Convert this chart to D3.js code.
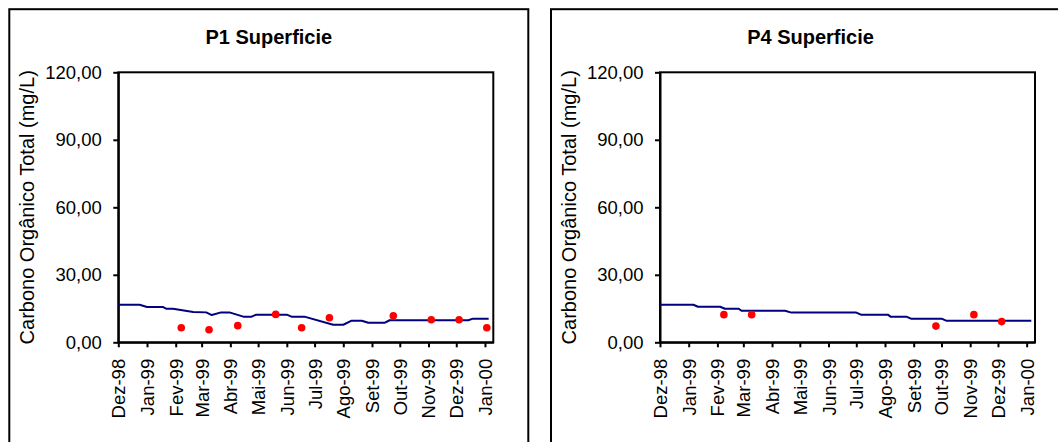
<!DOCTYPE html>
<html>
<head>
<meta charset="utf-8">
<script src="https://cdn.jsdelivr.net/npm/d3@7"></script>
<style>
  html, body { margin: 0; padding: 0; background: #fff; }
  svg { display: block; }
  svg text { font-family: "Liberation Sans", Arial, sans-serif; }
</style>
</head>
<body>
<svg id="chart" width="1058" height="442"></svg>
<script>
// Monthly ticks along the date axis and their labels
const tickDates = ["1998-12-01","1999-01-01","1999-02-01","1999-03-01","1999-04-01","1999-05-01",
  "1999-06-01","1999-07-01","1999-08-01","1999-09-01","1999-10-01","1999-11-01","1999-12-01","2000-01-01"];
const tickLabels = ["Dez-98","Jan-99","Fev-99","Mar-99","Abr-99","Mai-99","Jun-99",
  "Jul-99","Ago-99","Set-99","Out-99","Nov-99","Dez-99","Jan-00"];
const yTicks = [0, 30, 60, 90, 120];

// P1 Superficie — continuous series (line)
const p1LineDates = ["1998-12-01","1998-12-24","1999-01-01","1999-01-18","1999-01-22","1999-01-29",
  "1999-02-20","1999-03-06","1999-03-12","1999-03-22","1999-03-31","1999-04-15","1999-04-24",
  "1999-04-29","1999-06-01","1999-06-06","1999-06-20","1999-07-21","1999-08-01","1999-08-10",
  "1999-08-21","1999-08-28","1999-09-15","1999-09-20","1999-12-14","1999-12-19","2000-01-05"];
const p1LineValues = [16.7,16.7,15.7,15.7,14.9,14.9,13.5,13.3,12.1,13.3,13.3,11.4,11.4,
  12.3,12.3,11.4,11.4,7.8,7.8,9.6,9.6,8.7,8.7,9.8,9.8,10.5,10.5];
// P1 Superficie — samples (points)
const p1PointDates = ["1999-02-07","1999-03-09","1999-04-09","1999-05-20","1999-06-17",
  "1999-07-17","1999-09-24","1999-11-04","1999-12-04","2000-01-03"];
const p1PointValues = [6.5,5.6,7.4,12.4,6.5,10.9,11.8,10.0,10.0,6.5];

// P4 Superficie — continuous series (line)
const p4LineDates = ["1998-12-01","1999-01-06","1999-01-11","1999-02-04","1999-02-09","1999-02-24",
  "1999-02-27","1999-04-15","1999-04-22","1999-07-01","1999-07-06","1999-08-04","1999-08-07",
  "1999-08-24","1999-08-29","1999-10-01","1999-10-06","2000-01-06"];
const p4LineValues = [16.7,16.7,15.8,15.8,14.9,14.9,14.0,14.0,13.2,13.2,12.3,12.3,11.4,
  11.4,10.5,10.5,9.6,9.6];
// P4 Superficie — samples (points)
const p4PointDates = ["1999-02-08","1999-03-10","1999-09-25","1999-11-05","1999-12-05"];
const p4PointValues = [12.3,12.3,7.2,12.3,9.2];

const parse = d3.utcParse("%Y-%m-%d");
const ptBR = d3.formatLocale({decimal: ",", thousands: ".", grouping: [3], currency: ["R$", ""]});
const fmtY = ptBR.format(".2f");
const FONT = '"Liberation Sans", Arial, sans-serif';

const panels = [
  {title: "P1 Superficie", ox: 9.3, lineD: p1LineDates, lineV: p1LineValues, ptD: p1PointDates, ptV: p1PointValues},
  {title: "P4 Superficie", ox: 551, lineD: p4LineDates, lineV: p4LineValues, ptD: p4PointDates, ptV: p4PointValues}
];

const svg = d3.select("#chart");
const plotTop = 72.3, plotBottom = 342.3, plotW = 375;

panels.forEach(p => {
  const g = svg.append("g");
  const left = p.ox + 109;

  // chart area border
  g.append("rect")
    .attr("x", p.ox).attr("y", 9.2)
    .attr("width", 519).attr("height", 470)
    .attr("fill", "#fff").attr("stroke", "#000").attr("stroke-width", 2);

  g.append("text")
    .attr("x", p.ox + 259.5).attr("y", 44)
    .attr("text-anchor", "middle")
    .attr("font-family", FONT).attr("font-size", 20).attr("font-weight", "bold")
    .text(p.title);

  const x = d3.scaleUtc()
    .domain([parse("1998-12-01"), parse("2000-01-10")])
    .range([left, left + plotW]);
  const y = d3.scaleLinear().domain([0, 120]).range([plotBottom, plotTop]);

  // y axis
  const ya = g.append("g")
    .attr("transform", `translate(${left},0)`)
    .call(d3.axisLeft(y).tickValues(yTicks).tickSize(5).tickSizeOuter(0).tickPadding(11.5).tickFormat(fmtY))
    .attr("font-family", FONT).attr("font-size", 18.5);
  ya.selectAll("text").attr("font-size", 18.5).attr("fill", "#000");
  ya.selectAll("line, path").attr("stroke", "#000").attr("stroke-width", 2);

  // x axis
  const xa = g.append("g")
    .attr("transform", `translate(0,${plotBottom})`)
    .call(d3.axisBottom(x).tickValues(tickDates.map(parse)).tickSize(5).tickSizeOuter(0)
      .tickFormat((d, i) => tickLabels[i]))
    .attr("font-family", FONT).attr("font-size", 18.5);
  xa.selectAll("text")
    .attr("font-size", 18.5).attr("fill", "#000")
    .attr("transform", "rotate(-90)")
    .attr("x", -16.5).attr("y", 0).attr("dy", "0.35em")
    .attr("text-anchor", "end");
  xa.selectAll("line, path").attr("stroke", "#000").attr("stroke-width", 2);

  // plot frame
  g.append("rect")
    .attr("x", left).attr("y", plotTop)
    .attr("width", plotW).attr("height", plotBottom - plotTop)
    .attr("fill", "none").attr("stroke", "#000").attr("stroke-width", 2);

  // y axis title
  g.append("text")
    .attr("transform", `translate(${left - 84},${(plotTop + plotBottom) / 2}) rotate(-90)`)
    .attr("text-anchor", "middle")
    .attr("font-family", FONT).attr("font-size", 20)
    .text("Carbono Orgânico Total (mg/L)");

  // continuous series
  const lineData = p.lineD.map((d, i) => ({date: parse(d), value: p.lineV[i]}));
  g.append("path")
    .datum(lineData)
    .attr("fill", "none").attr("stroke", "#000080").attr("stroke-width", 2)
    .attr("stroke-linejoin", "round")
    .attr("d", d3.line().x(d => x(d.date)).y(d => y(d.value)));

  // sampled values
  const ptData = p.ptD.map((d, i) => ({date: parse(d), value: p.ptV[i]}));
  g.selectAll("circle.pt").data(ptData).join("circle")
    .attr("class", "pt")
    .attr("cx", d => x(d.date)).attr("cy", d => y(d.value))
    .attr("r", 3.8).attr("fill", "#ff0000");
});
</script>
</body>
</html>
